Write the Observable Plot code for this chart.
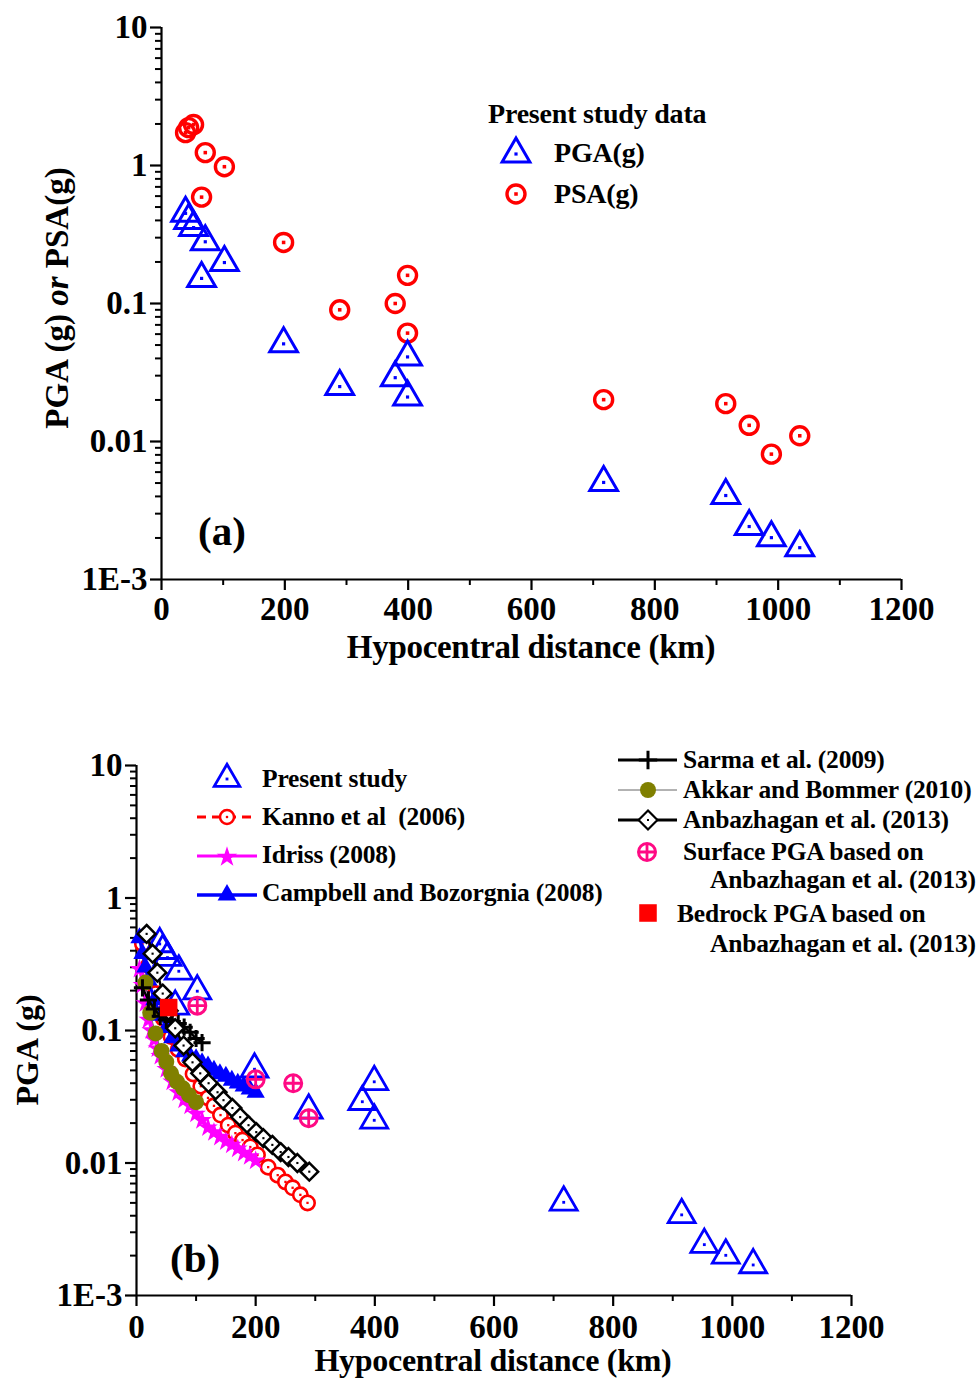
<!DOCTYPE html>
<html><head><meta charset="utf-8">
<script src="https://cdn.jsdelivr.net/npm/d3@7"></script>
<script src="https://cdn.jsdelivr.net/npm/@observablehq/plot@0.6"></script>
<style>
html,body{margin:0;padding:0;background:#fff;overflow:hidden;}
#chart svg{display:block;}
</style></head><body><div id="chart"></div>
<script>
// ---------------- DATA ----------------
// Present study (hypocentral distance km, PGA g, PSA g)
const presentDistance = [39, 44, 52, 71, 102, 65, 198, 289, 379, 399, 399, 717, 915, 953, 989, 1035];
const presentPGA = [0.45, 0.40, 0.355, 0.28, 0.198, 0.152, 0.051, 0.025, 0.029, 0.041, 0.021, 0.00505, 0.00406, 0.00242, 0.00201, 0.0017];
const presentPSA = [1.73, 1.88, 1.98, 1.24, 0.98, 0.59, 0.277, 0.09, 0.10, 0.16, 0.061, 0.0201, 0.0188, 0.0131, 0.0081, 0.011];

// Kanno et al (2006)
const kannoDistance = [10, 20, 32, 45, 58, 70, 82, 95, 108, 120, 130, 141, 154, 166, 178, 191, 203, 221, 237, 250, 262, 275, 287];
const kannoPGA = [0.45, 0.31, 0.19, 0.123, 0.09, 0.072, 0.061, 0.047, 0.038, 0.031, 0.027, 0.023, 0.0193, 0.0168, 0.0149, 0.0132, 0.0115, 0.0093, 0.0081, 0.0072, 0.0065, 0.00575, 0.005];

// Idriss (2008)
const idrissDistance = [5, 10, 15, 20, 25, 30, 35, 40, 50, 60, 70, 80, 90, 100, 110, 120, 130, 140, 150, 160, 170, 180, 190, 200];
const idrissPGA = [0.29, 0.22, 0.16, 0.12, 0.10, 0.085, 0.073, 0.064, 0.051, 0.041, 0.034, 0.030, 0.027, 0.0235, 0.021, 0.0185, 0.0170, 0.0157, 0.0145, 0.0137, 0.0128, 0.0119, 0.0112, 0.0104];

// Campbell and Bozorgnia (2008)
const campbellDistance = [5, 10, 15, 20, 30, 40, 50, 60, 70, 80, 90, 100, 110, 120, 130, 140, 150, 160, 170, 180, 190, 200];
const campbellPGA = [0.50, 0.38, 0.30, 0.24, 0.17, 0.13, 0.105, 0.088, 0.076, 0.069, 0.064, 0.061, 0.057, 0.054, 0.050, 0.047, 0.045, 0.042, 0.040, 0.038, 0.036, 0.034];

// Sarma et al. (2009)
const sarmaDistance = [10, 20, 30, 40, 50, 60, 70, 80, 90, 100, 110];
const sarmaPGA = [0.21, 0.17, 0.145, 0.128, 0.12, 0.117, 0.113, 0.106, 0.097, 0.087, 0.081];

// Akkar and Bommer (2010)
const akkarDistance = [15, 23, 32, 42, 50, 58, 68, 78, 88, 100];
const akkarPGA = [0.23, 0.136, 0.095, 0.07, 0.058, 0.0475, 0.041, 0.0366, 0.0325, 0.0288];

// Anbazhagan et al. (2013)
const anbDistance = [17, 27, 35, 44, 54, 65, 79, 94, 107, 121, 136, 146, 161, 174, 188, 201, 213, 228, 242, 255, 270, 290];
const anbPGA = [0.536, 0.38, 0.273, 0.19, 0.141, 0.104, 0.077, 0.0575, 0.0475, 0.040, 0.0342, 0.0298, 0.026, 0.0222, 0.0193, 0.0171, 0.0154, 0.0137, 0.0121, 0.0111, 0.0100, 0.0086];

// Surface PGA based on Anbazhagan et al. (2013)
const surfaceDistance = [102, 200, 263, 289];
const surfacePGA = [0.154, 0.0428, 0.040, 0.0218];

// Bedrock PGA based on Anbazhagan et al. (2013)
const bedrockDistance = [54];
const bedrockPGA = [0.149];

// Axis ticks
const xTicks = [0, 200, 400, 600, 800, 1000, 1200];
const xMinorTicks = [100, 300, 500, 700, 900, 1100];
const yTicks = [0.001, 0.01, 0.1, 1, 10];
const yTickLabels = ["1E-3", "0.01", "0.1", "1", "10"];
const yMinorTicks = [0.002, 0.003, 0.004, 0.005, 0.006, 0.007, 0.008, 0.009,
  0.02, 0.03, 0.04, 0.05, 0.06, 0.07, 0.08, 0.09,
  0.2, 0.3, 0.4, 0.5, 0.6, 0.7, 0.8, 0.9,
  2, 3, 4, 5, 6, 7, 8, 9];

// ---------------- HELPERS ----------------
const FONT = "'Liberation Serif','Times New Roman',serif";
const BLUE = "#0000ff", RED = "#ff0000", MAGENTA = "#ff00ff", OLIVE = "#808000", PINK = "#ff0a84";
const table = (xs, ys) => xs.map((d, i) => ({d, v: ys[i]}));
const yLabelMap = new Map(yTicks.map((t, i) => [t, yTickLabels[i]]));

function axes(padX) {
  return [
    Plot.ruleX([0], {strokeWidth: 2.2}),
    Plot.ruleY([0.001], {strokeWidth: 2.2}),
    Plot.axisY(yTicks, {anchor: "left", tickSize: 11, tickPadding: 3, strokeWidth: 2.2, label: null, tickFormat: d => yLabelMap.get(d)}),
    Plot.axisY(yMinorTicks, {anchor: "left", tickSize: 6, strokeWidth: 2, label: null, tickFormat: () => ""}),
    Plot.axisX(xTicks, {anchor: "bottom", tickSize: 11, tickPadding: padX, strokeWidth: 2.2, label: null, tickFormat: d => String(d)}),
    Plot.axisX(xMinorTicks, {anchor: "bottom", tickSize: 6, strokeWidth: 2, label: null, tickFormat: () => ""})
  ];
}
const baseStyle = {fontFamily: FONT, fontSize: "33px", fontWeight: "bold", color: "black", background: "white", overflow: "visible"};

function addText(svg, x, y, str, size, opts = {}) {
  const t = d3.select(svg).append("text")
    .attr("x", x).attr("y", y)
    .attr("font-family", FONT).attr("font-weight", "bold")
    .attr("font-size", size).attr("fill", "black")
    .attr("text-anchor", opts.anchor || "start")
    .text(str);
  if (opts.spacing) t.attr("letter-spacing", opts.spacing);
  return t;
}
function addSymbol(svg, type, r, x, y, style) {
  const p = d3.select(svg).append("path")
    .attr("d", d3.symbol(type, Math.PI * r * r)())
    .attr("transform", `translate(${x},${y})`);
  for (const k in style) p.attr(k, style[k]);
  return p;
}
function addLine(svg, x1, x2, y, style) {
  const l = d3.select(svg).append("line").attr("x1", x1).attr("x2", x2).attr("y1", y).attr("y2", y);
  for (const k in style) l.attr(k, style[k]);
}

const chart = document.getElementById("chart");

// ---------------- PANEL (a) ----------------
const present = presentDistance.map((d, i) => ({d, pga: presentPGA[i], psa: presentPSA[i]}));
const svgA = Plot.plot({
  width: 976, height: 700,
  marginLeft: 161, marginRight: 75, marginTop: 27, marginBottom: 121,
  style: baseStyle,
  x: {domain: [0, 1200]},
  y: {type: "log", domain: [0.001, 10]},
  marks: [
    ...axes(6),
    Plot.dot(present, {x: "d", y: "psa", r: 9, symbol: "circle", stroke: RED, strokeWidth: 3.4, fill: "none"}),
    Plot.dot(present, {x: "d", y: "psa", r: 2, symbol: "square", fill: RED}),
    Plot.dot(present, {x: "d", y: "pga", r: 10.3, symbol: "triangle", stroke: BLUE, strokeWidth: 3, fill: "none"}),
    Plot.dot(present, {x: "d", y: "pga", r: 1.8, symbol: "square", fill: BLUE})
  ]
});
chart.appendChild(svgA);
// titles
addText(svgA, 531, 658, "Hypocentral distance (km)", 33, {anchor: "middle", spacing: -0.3});
{
  const t = d3.select(svgA).append("text")
    .attr("transform", "translate(68,298) rotate(-90)")
    .attr("text-anchor", "middle").attr("font-family", FONT).attr("font-weight", "bold")
    .attr("font-size", 33).attr("fill", "black");
  t.append("tspan").text("PGA (g) ");
  t.append("tspan").attr("font-style", "italic").text("or");
  t.append("tspan").text(" PSA(g)");
}
addText(svgA, 198, 545, "(a)", 41);
// legend (a)
addText(svgA, 488, 123, "Present study data", 28, {spacing: -0.2});
addSymbol(svgA, d3.symbolTriangle, 10.3, 516, 154, {fill: "none", stroke: BLUE, "stroke-width": 3});
addSymbol(svgA, d3.symbolSquare, 1.8, 516, 154, {fill: BLUE});
addText(svgA, 554, 162, "PGA(g)", 28, {spacing: -0.2});
addSymbol(svgA, d3.symbolCircle, 9, 516, 194, {fill: "none", stroke: RED, "stroke-width": 3.4});
addSymbol(svgA, d3.symbolSquare, 2, 516, 194, {fill: RED});
addText(svgA, 554, 203, "PSA(g)", 28, {spacing: -0.2});

// ---------------- PANEL (b) ----------------
const kanno = table(kannoDistance, kannoPGA);
const idriss = table(idrissDistance, idrissPGA);
const campbell = table(campbellDistance, campbellPGA);
const sarma = table(sarmaDistance, sarmaPGA);
const akkar = table(akkarDistance, akkarPGA);
const anb = table(anbDistance, anbPGA);
const surface = table(surfaceDistance, surfacePGA);
const bedrock = table(bedrockDistance, bedrockPGA);

const svgB = Plot.plot({
  width: 976, height: 678,
  marginLeft: 136, marginRight: 125, marginTop: 65, marginBottom: 83,
  style: baseStyle,
  x: {domain: [0, 1200]},
  y: {type: "log", domain: [0.001, 10]},
  marks: [
    ...axes(8),
    // Kanno
    Plot.line(kanno, {x: "d", y: "v", stroke: RED, strokeWidth: 2.5, strokeDasharray: "8,5"}),
    Plot.dot(kanno, {x: "d", y: "v", r: 7.2, symbol: "circle", stroke: RED, strokeWidth: 2.6, fill: "white"}),
    Plot.dot(kanno, {x: "d", y: "v", r: 1.3, symbol: "square", fill: RED}),
    // Idriss
    Plot.line(idriss, {x: "d", y: "v", stroke: MAGENTA, strokeWidth: 2.5}),
    Plot.dot(idriss, {x: "d", y: "v", r: 6.2, symbol: "star", fill: MAGENTA, stroke: "none"}),
    // Campbell
    Plot.line(campbell, {x: "d", y: "v", stroke: BLUE, strokeWidth: 3}),
    Plot.dot(campbell, {x: "d", y: "v", r: 6.8, symbol: "triangle", fill: BLUE, stroke: "none"}),
    // Present study
    Plot.dot(present, {x: "d", y: "pga", r: 10, symbol: "triangle", stroke: BLUE, strokeWidth: 2.8, fill: "none"}),
    Plot.dot(present, {x: "d", y: "pga", r: 1.6, symbol: "square", fill: BLUE}),
    // Akkar
    Plot.line(akkar, {x: "d", y: "v", stroke: "#777", strokeWidth: 1}),
    Plot.dot(akkar, {x: "d", y: "v", r: 8, symbol: "circle", fill: OLIVE, stroke: "none"}),
    // Sarma
    Plot.line(sarma, {x: "d", y: "v", stroke: "black", strokeWidth: 2.5}),
    Plot.dot(sarma, {x: "d", y: "v", r: 5.6, symbol: "plus", stroke: "black", strokeWidth: 3}),
    // Anbazhagan
    Plot.line(anb, {x: "d", y: "v", stroke: "black", strokeWidth: 2.5}),
    Plot.dot(anb, {x: "d", y: "v", r: 8, symbol: "diamond2", stroke: "black", strokeWidth: 2.5, fill: "white"}),
    Plot.dot(anb, {x: "d", y: "v", r: 1.2, symbol: "square", fill: "black"}),
    // Surface PGA
    Plot.dot(surface, {x: "d", y: "v", r: 8.5, symbol: "circle", stroke: PINK, strokeWidth: 3, fill: "none"}),
    Plot.dot(surface, {x: "d", y: "v", r: 5.6, symbol: "plus", stroke: PINK, strokeWidth: 2.8}),
    // Bedrock PGA
    Plot.dot(bedrock, {x: "d", y: "v", r: 9.9, symbol: "square", fill: RED, stroke: "none"})
  ]
});
chart.appendChild(svgB);
addText(svgB, 493, 671, "Hypocentral distance (km)", 32, {anchor: "middle", spacing: -0.3});
d3.select(svgB).append("text")
  .attr("transform", "translate(38,350) rotate(-90)")
  .attr("text-anchor", "middle").attr("font-family", FONT).attr("font-weight", "bold")
  .attr("font-size", 32).attr("fill", "black").text("PGA (g)");
addText(svgB, 170, 572, "(b)", 41);

// legend (b) left
const LS = 25.5, LSP = -0.2;
addSymbol(svgB, d3.symbolTriangle, 9.5, 227, 79, {fill: "none", stroke: BLUE, "stroke-width": 2.8});
addSymbol(svgB, d3.symbolSquare, 1.6, 227, 79, {fill: BLUE});
addText(svgB, 262, 87, "Present study", LS, {spacing: LSP});

addLine(svgB, 197, 257, 117, {stroke: RED, "stroke-width": 3, "stroke-dasharray": "9,6"});
addSymbol(svgB, d3.symbolCircle, 7, 227, 117, {fill: "white", stroke: RED, "stroke-width": 2.5});
addSymbol(svgB, d3.symbolSquare, 1.3, 227, 117, {fill: RED});
addText(svgB, 262, 125, "Kanno et al  (2006)", LS, {spacing: LSP}).attr("xml:space", "preserve").style("white-space", "pre");

addLine(svgB, 197, 257, 156, {stroke: MAGENTA, "stroke-width": 3});
addSymbol(svgB, d3.symbolStar, 6.5, 227, 157, {fill: MAGENTA});
addText(svgB, 262, 163, "Idriss (2008)", LS, {spacing: LSP});

addLine(svgB, 197, 257, 195, {stroke: BLUE, "stroke-width": 3.5});
addSymbol(svgB, d3.symbolTriangle, 7, 227, 195, {fill: BLUE});
addText(svgB, 262, 201, "Campbell and Bozorgnia (2008)", LS, {spacing: LSP});

// legend (b) right
addLine(svgB, 618, 677, 60, {stroke: "black", "stroke-width": 2.8});
addSymbol(svgB, d3.symbolPlus, 6, 648, 60, {fill: "none", stroke: "black", "stroke-width": 3});
addText(svgB, 683, 68, "Sarma et al. (2009)", LS, {spacing: LSP});

addLine(svgB, 618, 677, 90, {stroke: "#666", "stroke-width": 1});
addSymbol(svgB, d3.symbolCircle, 8, 648, 90, {fill: OLIVE});
addText(svgB, 683, 98, "Akkar and Bommer (2010)", LS, {spacing: LSP});

addLine(svgB, 618, 677, 120, {stroke: "black", "stroke-width": 2.8});
addSymbol(svgB, d3.symbolDiamond2, 8.5, 648, 120, {fill: "white", stroke: "black", "stroke-width": 2.2});
addSymbol(svgB, d3.symbolSquare, 1.1, 648, 120, {fill: "black"});
addText(svgB, 683, 128, "Anbazhagan et al. (2013)", LS, {spacing: LSP});

addSymbol(svgB, d3.symbolCircle, 8.5, 647, 152, {fill: "none", stroke: PINK, "stroke-width": 3});
addSymbol(svgB, d3.symbolPlus, 5.6, 647, 152, {fill: "none", stroke: PINK, "stroke-width": 2.8});
addText(svgB, 683, 160, "Surface PGA based on", LS, {spacing: LSP});
addText(svgB, 710, 188, "Anbazhagan et al. (2013)", LS, {spacing: LSP});

addSymbol(svgB, d3.symbolSquare, 9.9, 648, 213, {fill: RED});
addText(svgB, 677, 222, "Bedrock PGA based on", LS, {spacing: LSP});
addText(svgB, 710, 252, "Anbazhagan et al. (2013)", LS, {spacing: LSP});
</script></body></html>
